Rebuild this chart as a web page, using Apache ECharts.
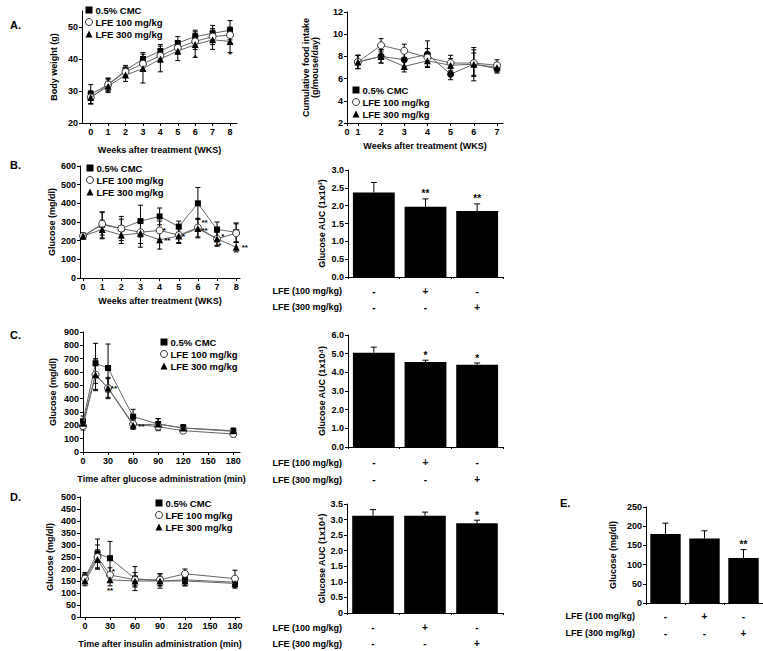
<!DOCTYPE html>
<html><head><meta charset="utf-8">
<script src="https://cdn.jsdelivr.net/npm/echarts@6/dist/echarts.min.js"></script>
<style>html,body{margin:0;padding:0;background:#fff}#c{width:763px;height:651px}</style>
</head><body><div id="c"></div>
<script>
// ---------- DATA ----------
const seriesNames = ['0.5% CMC', 'LFE 100 mg/kg', 'LFE 300 mg/kg'];
// A: body weight
const weeksA = [0, 1, 2, 3, 4, 5, 6, 7, 8];
const bwCMC = [29, 32, 36.5, 40, 42.5, 45, 47, 48, 49];
const bwL100 = [28, 32, 36, 38.5, 41, 43.5, 45.5, 47, 47.5];
const bwL300 = [28, 31.5, 35, 37, 40, 42.5, 44.5, 46, 45.5];
const bwErrCMC = [3, 2, 1.5, 2, 2, 2, 2, 2.5, 3];
const bwErrL100 = [2, 2, 1.5, 2, 2, 2, 2.5, 2.5, 2.5];
const bwErrL300 = [2, 2, 2, 4.5, 4, 3, 4, 3, 3.5];
const bwSigX = [6, 8];
const bwSigY = [40.5, 41.5];
const bwSigT = ['*', '*'];
// A: food intake
const weeksF = [1, 2, 3, 4, 5, 6, 7];
const fiCMC = [7.5, 8.0, 7.7, 8.2, 6.4, 7.3, 6.9];
const fiL100 = [7.5, 9.0, 8.5, 7.9, 7.4, 7.4, 7.2];
const fiL300 = [7.5, 8.0, 7.1, 7.6, 7.2, 7.3, 7.0];
const fiErrCMC = [0.6, 0.6, 0.6, 1.2, 0.5, 1.5, 0.4];
const fiErrL100 = [0.6, 0.6, 0.6, 0.8, 0.7, 1.2, 0.5];
const fiErrL300 = [0.6, 0.6, 0.5, 0.6, 0.6, 1.0, 0.4];
// B: fasting glucose weekly
const weeksB = [0, 1, 2, 3, 4, 5, 6, 7, 8];
const gCMC = [225, 285, 265, 305, 330, 275, 400, 260, 245];
const gL100 = [225, 290, 265, 245, 255, 230, 270, 210, 240];
const gL300 = [225, 260, 230, 240, 205, 225, 265, 210, 165];
const gErrCMC = [15, 70, 65, 85, 45, 30, 85, 40, 50];
const gErrL100 = [15, 60, 50, 60, 50, 40, 50, 40, 50];
const gErrL300 = [15, 50, 45, 75, 50, 40, 50, 35, 25];
const gSigX = [4.25, 4.4, 5.25, 6.35, 6.35, 7.3, 7.15, 8.45];
const gSigY = [252, 200, 225, 300, 255, 222, 175, 165];
const gSigT = ['*', '**', '*', '**', '**', '*', '*', '**'];
// B: AUC
const aucB = [2.37, 1.97, 1.85];
const aucBErr = [0.28, 0.22, 0.2];
const aucBSig = ['', '**', '**'];
// C: OGTT
const tG = [0, 15, 30, 60, 90, 120, 180];
const cCMC = [230, 665, 630, 265, 210, 180, 155];
const cL100 = [195, 580, 480, 210, 190, 160, 135];
const cL300 = [215, 580, 480, 200, 210, 180, 160];
const cErrCMC = [40, 150, 180, 55, 40, 25, 20];
const cErrL100 = [30, 120, 80, 30, 30, 20, 20];
const cErrL300 = [30, 110, 70, 30, 40, 25, 20];
const cSigX = [37, 70];
const cSigY = [478, 192];
const cSigT = ['**', '**'];
const aucC = [5.05, 4.55, 4.4];
const aucCErr = [0.3, 0.1, 0.1];
const aucCSig = ['', '*', '*'];
// D: ITT
const tI = [0, 15, 30, 60, 90, 120, 180];
const dCMC = [165, 265, 245, 160, 150, 155, 145];
const dL100 = [160, 250, 175, 155, 155, 180, 160];
const dL300 = [150, 240, 155, 150, 150, 150, 140];
const dErrCMC = [20, 60, 70, 50, 30, 25, 20];
const dErrL100 = [20, 50, 30, 30, 25, 20, 35];
const dErrL300 = [20, 40, 25, 20, 20, 20, 20];
const dSigX = [34, 30];
const dSigY = [190, 112];
const dSigT = ['*', '**'];
const aucD = [3.12, 3.12, 2.88];
const aucDErr = [0.2, 0.12, 0.1];
const aucDSig = ['', '', '*'];
// E: fasting glucose
const fastE = [180, 168, 117];
const fastEErr = [28, 20, 22];
const fastESig = ['', '', '**'];
// dose rows
const groups = ['CMC', 'LFE100', 'LFE300'];
const dose100 = ['-', '+', '-'];
const dose300 = ['-', '-', '+'];
const doseLabel100 = 'LFE (100 mg/kg)';
const doseLabel300 = 'LFE (300 mg/kg)';

// ---------- HELPERS ----------
const FONT = '"Liberation Sans", Arial, sans-serif';
const TXT = {fontSize: 9, fontWeight: 'bold', color: '#000', fontFamily: FONT};
const series = [];
const SYM = [
  {symbol: 'rect', symbolSize: 6, itemStyle: {color: '#000'}},
  {symbol: 'circle', symbolSize: 7, itemStyle: {color: '#fff', borderColor: '#333', borderWidth: 1}},
  {symbol: 'triangle', symbolSize: 7, itemStyle: {color: '#000'}}
];
function errRender(cap, upOnly, sigs) {
  return function (params, api) {
    const x = api.value(0), y = api.value(1), e = api.value(2);
    const top = api.coord([x, y + e]);
    const bot = api.coord([x, upOnly ? y : y - e]);
    const st = {stroke: '#000', lineWidth: 1};
    const ch = [
      {type: 'line', shape: {x1: top[0], y1: top[1], x2: bot[0], y2: bot[1]}, style: st},
      {type: 'line', shape: {x1: top[0] - cap, y1: top[1], x2: top[0] + cap, y2: top[1]}, style: st}
    ];
    if (!upOnly) ch.push({type: 'line', shape: {x1: bot[0] - cap, y1: bot[1], x2: bot[0] + cap, y2: bot[1]}, style: st});
    if (sigs && sigs[params.dataIndex]) {
      ch.push({type: 'text', x: top[0], y: top[1] - 5,
        style: {text: sigs[params.dataIndex], fontSize: 10, fontWeight: 'bold', fill: '#000', align: 'center', verticalAlign: 'middle', fontFamily: FONT}});
    }
    return {type: 'group', children: ch};
  };
}
function addLine(gi, idx, xs, ys, errs, symOverride) {
  const st = Object.assign({}, SYM[idx], symOverride || {});
  series.push({type: 'custom', name: seriesNames[idx] + ' err', xAxisIndex: gi, yAxisIndex: gi, z: 2, silent: true,
    data: xs.map((x, i) => [x, ys[i], errs[i]]), renderItem: errRender(2.5, false)});
  series.push({type: 'line', name: seriesNames[idx], xAxisIndex: gi, yAxisIndex: gi, z: 3 + idx,
    data: xs.map((x, i) => [x, ys[i]]), symbol: st.symbol, symbolSize: st.symbolSize, itemStyle: st.itemStyle,
    lineStyle: {color: '#666', width: 1}, showAllSymbol: true, animation: false, silent: true});
}
function addSigs(gi, xs, ys, ts) {
  series.push({type: 'custom', xAxisIndex: gi, yAxisIndex: gi, z: 10, silent: true,
    data: xs.map((x, i) => [x, ys[i]]),
    renderItem: function (params, api) {
      const p = api.coord([api.value(0), api.value(1)]);
      return {type: 'text', x: p[0], y: p[1],
        style: {text: ts[params.dataIndex], fontSize: 8, fontWeight: 'bold', fill: '#000', align: 'center', verticalAlign: 'middle', fontFamily: FONT}};
    }});
}
function addBars(gi, vals, errs, sigs, barW) {
  series.push({type: 'bar', xAxisIndex: gi, yAxisIndex: gi, data: vals, barWidth: barW,
    itemStyle: {color: '#000'}, z: 2, animation: false, silent: true});
  series.push({type: 'custom', xAxisIndex: gi, yAxisIndex: gi, z: 3, silent: true,
    data: vals.map((v, i) => [i, v, errs[i]]), renderItem: errRender(3, true, sigs)});
}
function baseAxis(gi, extra) {
  const a = {
    gridIndex: gi,
    axisLine: {show: true, onZero: false, lineStyle: {color: '#000', width: 1}},
    axisTick: {show: true, length: 3, lineStyle: {color: '#000'}},
    splitLine: {show: false},
    axisLabel: Object.assign({margin: 4}, TXT),
    nameTextStyle: Object.assign({}, TXT)
  };
  for (const k in extra) {
    if (typeof extra[k] === 'object' && !Array.isArray(extra[k]) && a[k]) a[k] = Object.assign({}, a[k], extra[k]);
    else a[k] = extra[k];
  }
  return a;
}
function xLine(gi, min, max, ticks, name, gap, fmt) {
  return baseAxis(gi, {type: 'value', min, max, name, nameLocation: 'middle', nameGap: gap,
    axisLabel: {customValues: ticks, formatter: fmt || (v => String(v))}, axisTick: {customValues: ticks}});
}
function yVal(gi, min, max, interval, name, gap, fmt, custom) {
  const o = {type: 'value', min, max, name, nameLocation: 'middle', nameGap: gap, nameRotate: 90};
  if (custom) { o.axisLabel = {customValues: custom}; o.axisTick = {customValues: custom}; }
  else o.interval = interval;
  if (fmt) o.axisLabel = Object.assign(o.axisLabel || {}, {formatter: fmt});
  return baseAxis(gi, o);
}
function xCat(gi, margin, lh) {
  return baseAxis(gi, {type: 'category', data: groups,
    axisTick: {show: true, length: 2},
    axisLabel: {margin: margin, lineHeight: lh, fontSize: 10, formatter: (v, i) => dose100[i] + '\n' + dose300[i]}});
}
function legendAt(left, top) {
  const ls = [
    {name: seriesNames[0], icon: 'rect', itemStyle: {color: '#000', borderWidth: 0}},
    {name: seriesNames[1], icon: 'circle', itemStyle: {color: '#fff', borderColor: '#333', borderWidth: 1}},
    {name: seriesNames[2], icon: 'triangle', itemStyle: {color: '#000', borderWidth: 0}}
  ];
  return {left, top, orient: 'vertical', itemWidth: 7, itemHeight: 7, itemGap: 2, padding: 0,
    selectedMode: false, textStyle: {fontSize: 9.5, fontWeight: 'bold', color: '#000', fontFamily: FONT, padding: [0, 0, 0, -2]}, data: ls};
}

// ---------- GRIDS ----------
const grid = [
  {left: 82, top: 11, width: 155, height: 112},   // 0 A body weight
  {left: 347, top: 12, width: 156, height: 111},  // 1 A food intake
  {left: 80, top: 166, width: 160, height: 112},  // 2 B line
  {left: 348, top: 170, width: 155, height: 107}, // 3 B bar
  {left: 83, top: 332, width: 157, height: 120},  // 4 C line
  {left: 348, top: 335, width: 155, height: 112}, // 5 C bar
  {left: 80, top: 497, width: 160, height: 120},  // 6 D line
  {left: 347, top: 504, width: 156, height: 110}, // 7 D bar
  {left: 646, top: 507, width: 135, height: 96}   // 8 E bar
];
const weekTicksF = [0.53].concat(weeksF);
const xAxis = [
  xLine(0, -0.5, 8.4, weeksA, 'Weeks after treatment (WKS)', 22),
  xLine(1, 0.53, 7.26, weekTicksF, 'Weeks after treatment (WKS)', 18, v => (v < 1 ? '0' : String(v))),
  xLine(2, -0.16, 8.2, weeksB, 'Weeks after treatment (WKS)', 18),
  xCat(3, 6, 16),
  xLine(4, 0, 188, [0, 30, 60, 90, 120, 150, 180], 'Time after glucose administration (min)', 22),
  xCat(5, 7, 17),
  xLine(6, -6, 186, [0, 30, 60, 90, 120, 150, 180], 'Time after insulin administration (min)', 22),
  xCat(7, 6, 16),
  xCat(8, 5, 17)
];
const yAxis = [
  yVal(0, 20, 55, null, 'Body weight (g)', 24, null, [20, 30, 40, 50]),
  yVal(1, 2, 12, 2, 'Cumulative food intake\n(g/mouse/day)', 28),
  yVal(2, 0, 600, 100, 'Glucose (mg/dl)', 24),
  yVal(3, 0, 3, 0.5, 'Glucose AUC (1x10³)', 22, v => v.toFixed(1)),
  yVal(4, 0, 900, 100, 'Glucose (mg/dl)', 26),
  yVal(5, 0, 6, 1, 'Glucose AUC (1x10⁴)', 22, v => v.toFixed(1)),
  yVal(6, 0, 500, 50, 'Glucose (mg/dl)', 26),
  yVal(7, 0, 3.5, 0.5, 'Glucose AUC (1x10⁴)', 20, v => (v === 0 ? '0' : v.toFixed(1))),
  yVal(8, 0, 250, 50, 'Glucose (mg/dl)', 29)
];

// ---------- SERIES ----------
addLine(0, 0, weeksA, bwCMC, bwErrCMC);
addLine(0, 1, weeksA, bwL100, bwErrL100);
addLine(0, 2, weeksA, bwL300, bwErrL300);
addSigs(0, bwSigX, bwSigY, bwSigT);

addLine(1, 0, weeksF, fiCMC, fiErrCMC, {symbol: 'circle', symbolSize: 7});
addLine(1, 1, weeksF, fiL100, fiErrL100);
addLine(1, 2, weeksF, fiL300, fiErrL300);

addLine(2, 0, weeksB, gCMC, gErrCMC);
addLine(2, 1, weeksB, gL100, gErrL100);
addLine(2, 2, weeksB, gL300, gErrL300);
addSigs(2, gSigX, gSigY, gSigT);
addBars(3, aucB, aucBErr, aucBSig, '81%');

addLine(4, 0, tG, cCMC, cErrCMC);
addLine(4, 1, tG, cL100, cErrL100);
addLine(4, 2, tG, cL300, cErrL300);
addSigs(4, cSigX, cSigY, cSigT);
addBars(5, aucC, aucCErr, aucCSig, '81%');

addLine(6, 0, tI, dCMC, dErrCMC);
addLine(6, 1, tI, dL100, dErrL100);
addLine(6, 2, tI, dL300, dErrL300);
addSigs(6, dSigX, dSigY, dSigT);
addBars(7, aucD, aucDErr, aucDSig, '80%');

addBars(8, fastE, fastEErr, fastESig, '78%');

// ---------- TEXT ----------
function t(x, y, text, align, size) {
  return {type: 'text', x, y, silent: true,
    style: {text, fontSize: size || 9, fontWeight: 'bold', fill: '#000', fontFamily: FONT, align: align || 'left', verticalAlign: 'middle'}};
}
const graphic = [
  t(10, 25, 'A.', 'left', 11), t(10, 165, 'B.', 'left', 11), t(10, 335, 'C.', 'left', 11),
  t(10, 497, 'D.', 'left', 11), t(560, 503, 'E.', 'left', 11),
  t(342, 291, doseLabel100, 'right'), t(342, 307, doseLabel300, 'right'),
  t(342, 463, doseLabel100, 'right'), t(342, 480, doseLabel300, 'right'),
  t(342, 628, doseLabel100, 'right'), t(342, 644, doseLabel300, 'right'),
  t(635, 616, doseLabel100, 'right'), t(635, 633, doseLabel300, 'right')
];

const chart = echarts.init(document.getElementById('c'), null, {renderer: 'svg'});
chart.setOption({
  animation: false,
  backgroundColor: '#fff',
  textStyle: {fontFamily: FONT},
  grid, xAxis, yAxis, series, graphic,
  legend: [legendAt(85, 5), legendAt(352, 85), legendAt(86, 163), legendAt(160, 337), legendAt(155, 498)]
});
</script></body></html>
